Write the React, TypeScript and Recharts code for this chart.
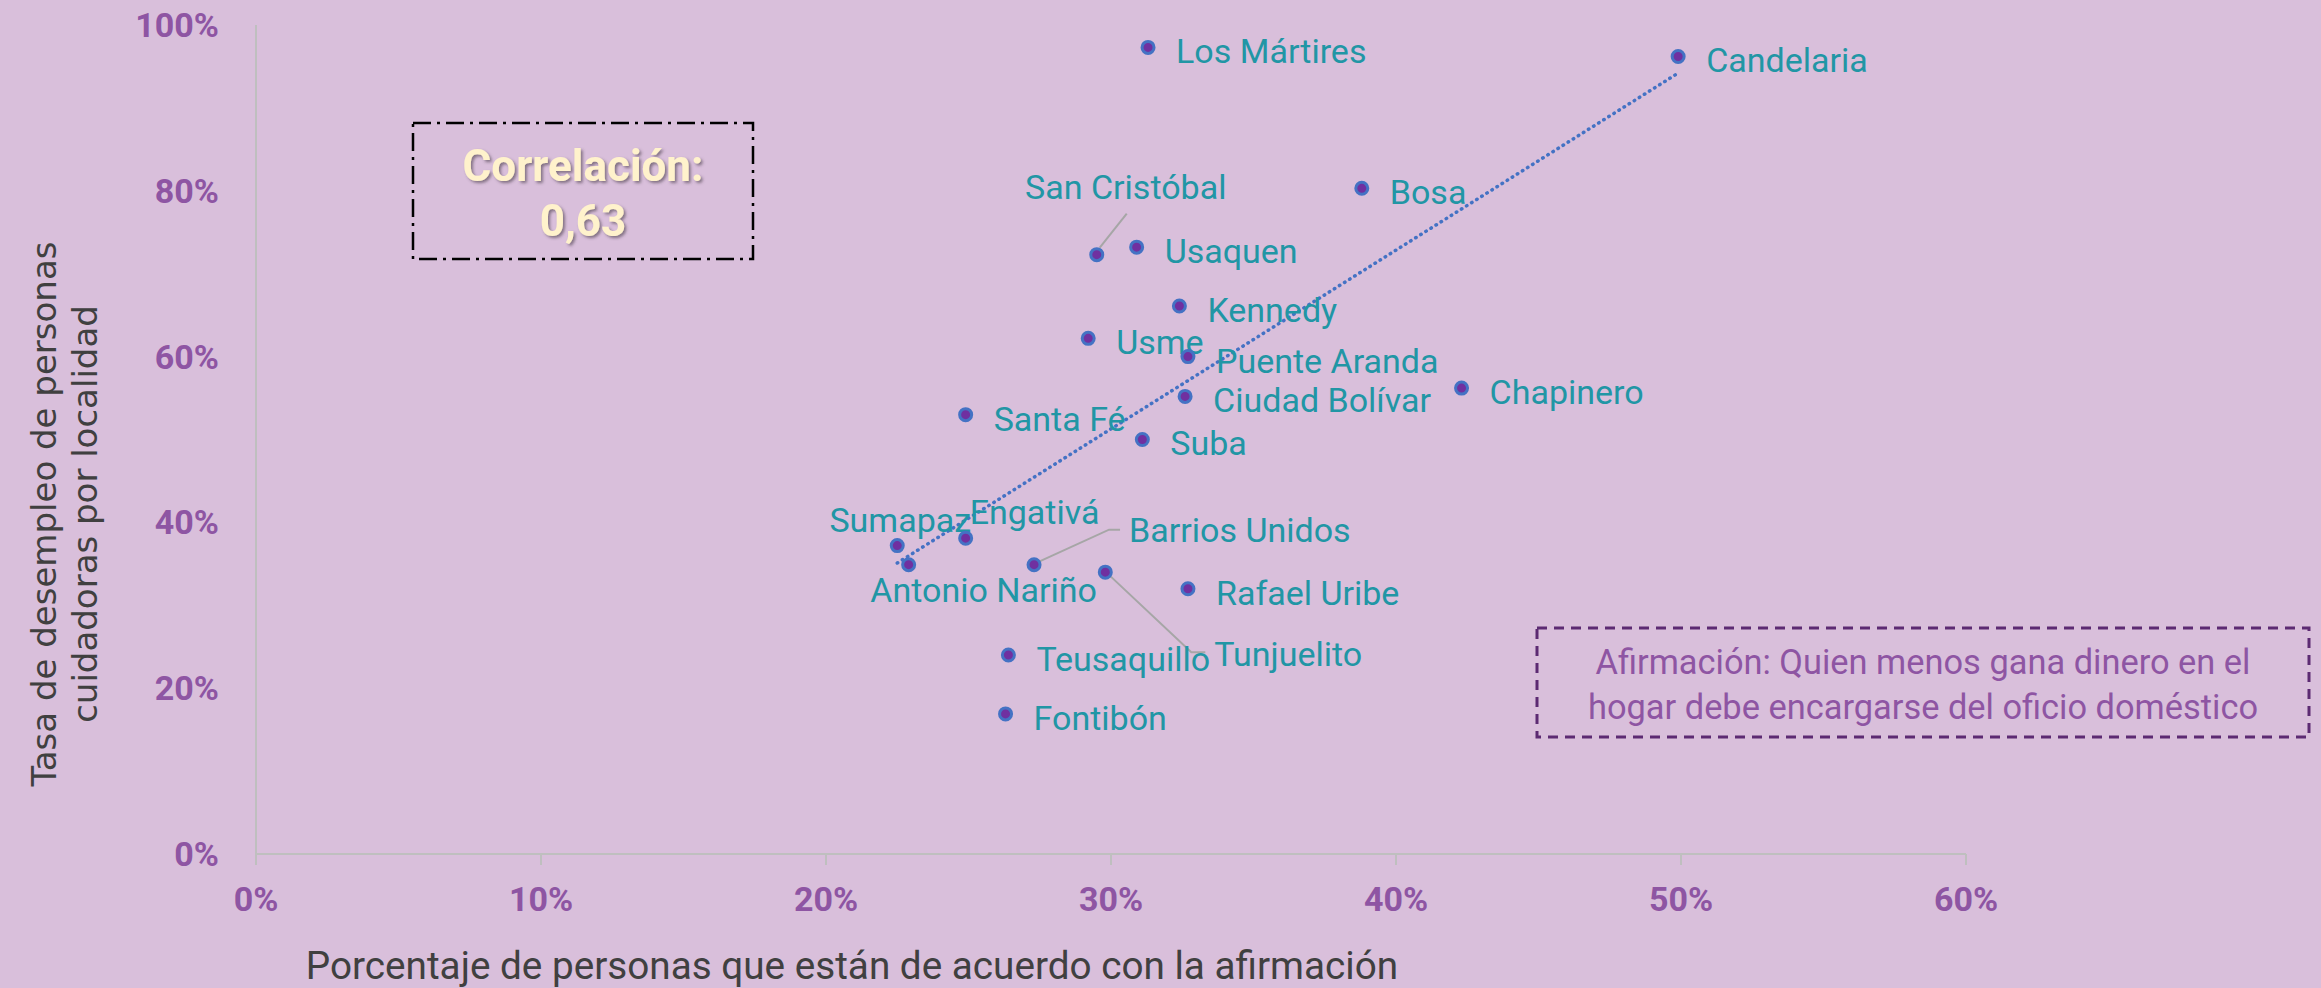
import { ScatterChart, Scatter, XAxis, YAxis } from 'recharts'

// Localidades de Bogotá
const localidades = [
  'Los Mártires', 'Candelaria', 'Bosa', 'San Cristóbal', 'Usaquen', 'Kennedy',
  'Usme', 'Puente Aranda', 'Ciudad Bolívar', 'Chapinero', 'Santa Fé', 'Suba',
  'Sumapaz', 'Engativá', 'Antonio Nariño', 'Barrios Unidos', 'Tunjuelito',
  'Rafael Uribe', 'Teusaquillo', 'Fontibón'
]
// % de acuerdo con la afirmación
const acuerdo = [
  0.313, 0.499, 0.388, 0.295, 0.309, 0.324,
  0.292, 0.327, 0.326, 0.423, 0.249, 0.311,
  0.225, 0.249, 0.229, 0.273, 0.298,
  0.327, 0.264, 0.263
]
// tasa de desempleo de personas cuidadoras
const desempleo = [
  0.973, 0.962, 0.803, 0.723, 0.732, 0.661,
  0.622, 0.600, 0.552, 0.562, 0.530, 0.500,
  0.372, 0.381, 0.349, 0.349, 0.340,
  0.320, 0.240, 0.169
]
// línea de tendencia (extremos)
const tendenciaX = [0.225, 0.499]
const tendenciaY = [0.351, 0.942]

const xTicks = [0, 0.1, 0.2, 0.3, 0.4, 0.5, 0.6]
const yTicks = [0, 0.2, 0.4, 0.6, 0.8, 1]

const puntos = localidades.map((name, i) => ({ name, x: acuerdo[i], y: desempleo[i] }))
const tendencia = tendenciaX.map((x, i) => ({ x, y: tendenciaY[i] }))

const FONT = "'Liberation Sans Narrow', 'Arial Narrow', Roboto, sans-serif"
const TEAL = '#2196A5'
const PURPLE = '#8E55A3'

type Pos = { dx: number; dy: number; anchor?: 'start' | 'middle'; leader?: number[][] }

// ubicación de etiquetas que no van a la derecha del punto
const LABEL_POS: Record<string, Pos> = {
  'San Cristóbal': { dx: 29, dy: -68, anchor: 'middle', leader: [[3, -7], [30, -41]] },
  Sumapaz: { dx: 3, dy: -26, anchor: 'middle' },
  'Engativá': { dx: 4, dy: -26 },
  'Antonio Nariño': { dx: 75, dy: 25, anchor: 'middle' },
  'Barrios Unidos': { dx: 95, dy: -35, leader: [[5, -3], [75, -35], [86, -35]] },
  Tunjuelito: { dx: 109, dy: 82, leader: [[5, 4], [86, 80], [100, 80]] }
}

const pct = (v: number) => `${Math.round(v * 100)}%`

function Punto(props: any) {
  const { cx, cy, payload } = props
  const pos = LABEL_POS[payload.name] ?? { dx: 28, dy: 4 }
  return (
    <g>
      {pos.leader && (
        <polyline
          points={pos.leader.map(([a, b]) => `${cx + a},${cy + b}`).join(' ')}
          fill="none"
          stroke="#A6A6A6"
          strokeWidth={2}
        />
      )}
      <circle cx={cx} cy={cy} r={6} fill="#7030A0" stroke="#4472C4" strokeWidth={3} />
      <text
        x={cx + pos.dx}
        y={cy + pos.dy}
        dy="0.35em"
        textAnchor={pos.anchor ?? 'start'}
        fill={TEAL}
        fontSize={34}
        fontFamily={FONT}
      >
        {payload.name}
      </text>
    </g>
  )
}

export default function App() {
  return (
    <div style={{ position: 'relative', width: 2321, height: 988, background: '#D9BFDB', overflow: 'hidden' }}>
      <style>{'body{margin:0}'}</style>
      <ScatterChart width={2321} height={988} margin={{ top: 25, right: 355, bottom: 0, left: 0 }}>
        <XAxis
          type="number"
          dataKey="x"
          domain={[0, 0.6]}
          ticks={xTicks}
          interval={0}
          tickFormatter={pct}
          height={134}
          axisLine={{ stroke: '#BFBFBF', strokeWidth: 2 }}
          tickLine={{ stroke: '#BFBFBF', strokeWidth: 2 }}
          tickSize={11}
          tickMargin={22}
          tick={{ fill: PURPLE, fontSize: 34, fontWeight: 'bold', fontFamily: FONT }}
        />
        <YAxis
          type="number"
          dataKey="y"
          domain={[0, 1]}
          ticks={yTicks}
          interval={0}
          tickFormatter={pct}
          width={256}
          axisLine={{ stroke: '#BFBFBF', strokeWidth: 2 }}
          tickLine={false}
          tickSize={0}
          tickMargin={37}
          tick={{ fill: PURPLE, fontSize: 34, fontWeight: 'bold', fontFamily: FONT }}
        />
        <Scatter
          data={tendencia}
          line={{ stroke: '#4472C4', strokeWidth: 3.5, strokeDasharray: '0.5 5.5', strokeLinecap: 'round' }}
          shape={() => <g />}
          isAnimationActive={false}
        />
        <Scatter data={puntos} shape={<Punto />} isAnimationActive={false} />
      </ScatterChart>

      <svg width={2321} height={988} style={{ position: 'absolute', left: 0, top: 0, pointerEvents: 'none' }}>
        <defs>
          <filter id="sombra" x="-10%" y="-10%" width="120%" height="130%">
            <feDropShadow dx="2" dy="2" stdDeviation="1.5" floodColor="#4a3a4a" floodOpacity="0.6" />
          </filter>
        </defs>
        {/* título eje Y */}
        <g transform="translate(44,514) rotate(-90)" fill="#404040" fontSize={34} fontFamily="'DejaVu Sans', sans-serif">
          <text x={0} y={0} dy="0.35em" textAnchor="middle">Tasa de desempleo de personas</text>
          <text x={0} y={41} dy="0.35em" textAnchor="middle">cuidadoras por localidad</text>
        </g>
        {/* título eje X */}
        <text x={852} y={965} dy="0.35em" textAnchor="middle" fill="#404040" fontSize={38.7} fontFamily={FONT}>
          Porcentaje de personas que están de acuerdo con la afirmación
        </text>
        {/* caja correlación */}
        <rect x={413} y={123} width={340} height={136} fill="none" stroke="#000" strokeWidth={2.5} strokeDasharray="18 6 3 6" />
        <g fill="#FFF2CC" fontSize={44} fontWeight="bold" fontFamily={FONT} textAnchor="middle" filter="url(#sombra)">
          <text x={583} y={166} dy="0.35em">Correlación:</text>
          <text x={583} y={221} dy="0.35em">0,63</text>
        </g>
        {/* caja afirmación */}
        <rect x={1537} y={628} width={772} height={109} fill="none" stroke="#5C2A72" strokeWidth={3} strokeDasharray="10 7" />
        <g fill={PURPLE} fontSize={34.4} fontFamily={FONT} textAnchor="middle">
          <text x={1923} y={662} dy="0.35em">Afirmación: Quien menos gana dinero en el</text>
          <text x={1923} y={707} dy="0.35em">hogar debe encargarse del oficio doméstico</text>
        </g>
      </svg>
    </div>
  )
}
